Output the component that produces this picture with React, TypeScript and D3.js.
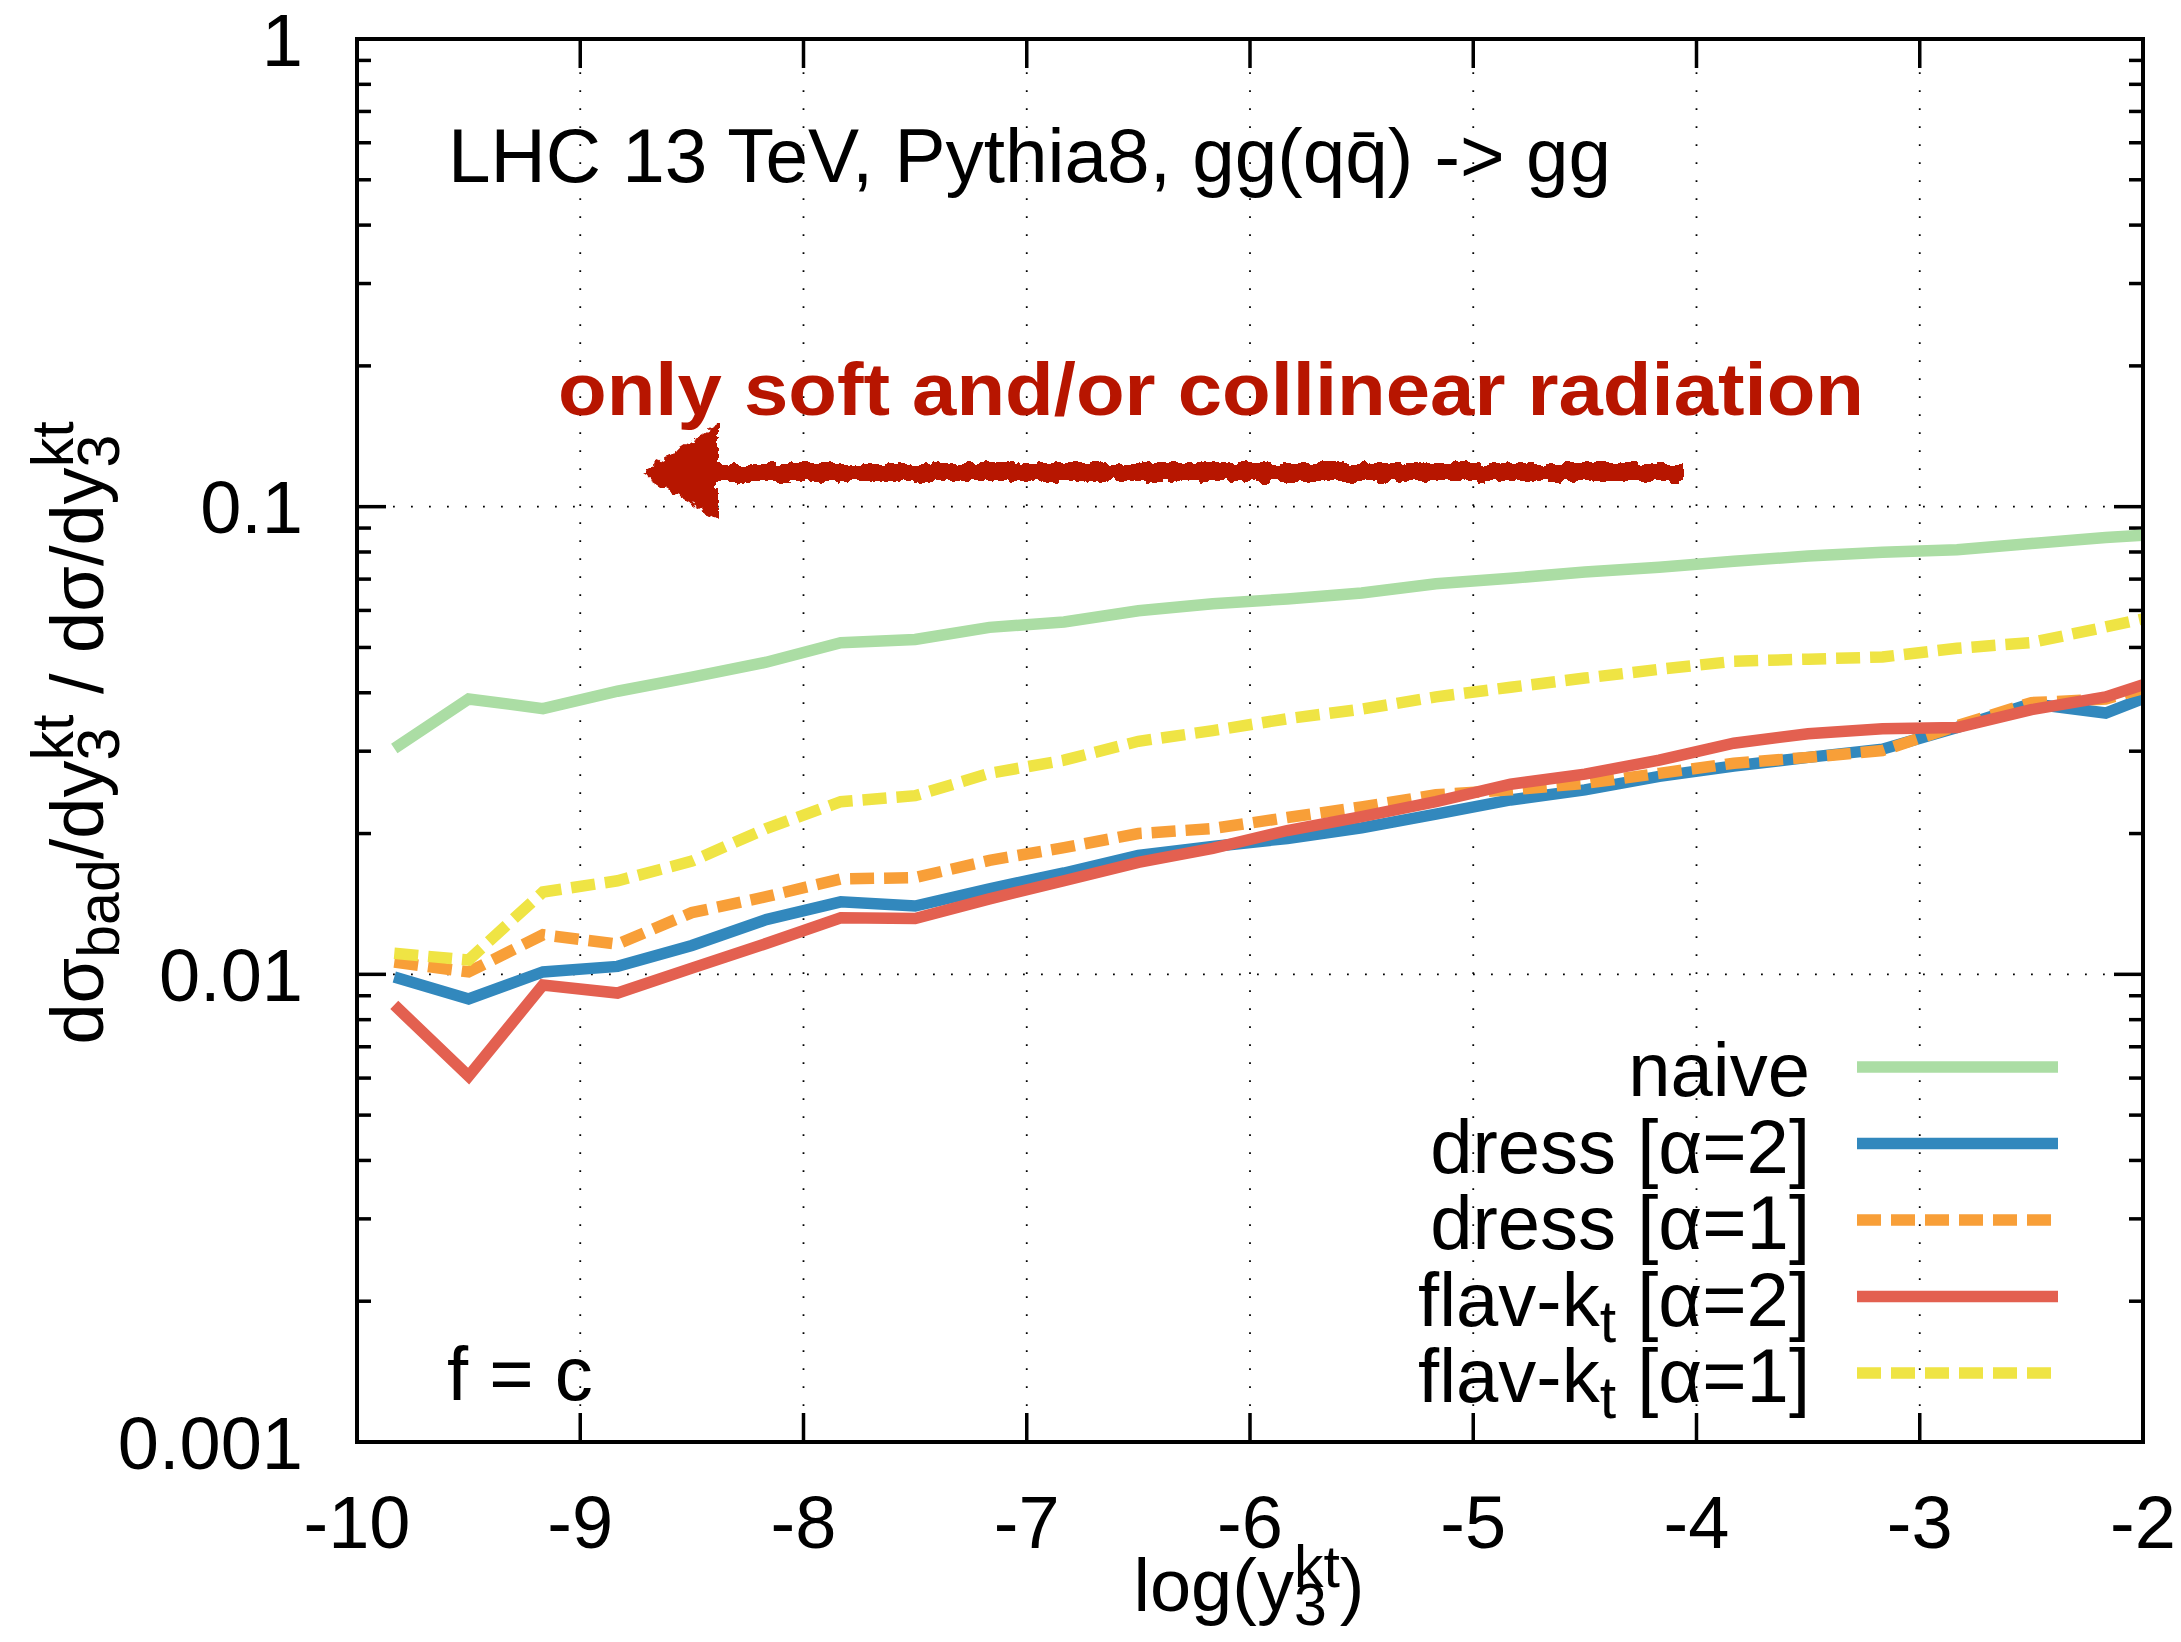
import React from "react";
import * as d3 from "d3";

// log(y3^kt) bin centres (bins of width 1/3); the last bin lies beyond the frame and is clipped
const logY3 = [
  -9.833, -9.5, -9.167, -8.833, -8.5, -8.167, -7.833, -7.5, -7.167, -6.833, -6.5, -6.167,
  -5.833, -5.5, -5.167, -4.833, -4.5, -4.167, -3.833, -3.5, -3.167, -2.833, -2.5, -2.167, -1.833,
];

const naive = [
  0.0304, 0.0388, 0.037, 0.0403, 0.0432, 0.0465, 0.0512, 0.052, 0.0552, 0.0567, 0.0599, 0.062,
  0.0635, 0.0654, 0.0684, 0.0703, 0.0725, 0.0742, 0.0764, 0.0784, 0.0799, 0.0809, 0.0834, 0.0859, 0.0878,
];
const dressA2 = [
  0.00987, 0.00886, 0.01012, 0.0104, 0.01153, 0.01309, 0.01429, 0.014, 0.01524, 0.01647, 0.01795, 0.01877,
  0.01952, 0.02057, 0.022, 0.0236, 0.0248, 0.0265, 0.0279, 0.0291, 0.0303, 0.0337, 0.0379, 0.0362, 0.0417,
];
const dressA1 = [
  0.01062, 0.01012, 0.01215, 0.0116, 0.01355, 0.01466, 0.016, 0.0161, 0.01753, 0.01866, 0.02, 0.0205,
  0.02164, 0.0228, 0.0242, 0.0248, 0.0256, 0.0269, 0.02827, 0.0291, 0.0301, 0.034, 0.0381, 0.0388, 0.043,
];
const flavKtA2 = [
  0.0086, 0.00606, 0.00949, 0.00912, 0.01031, 0.01164, 0.01321, 0.01316, 0.0145, 0.01585, 0.01736, 0.0186,
  0.0203, 0.02173, 0.0234, 0.0255, 0.0268, 0.0287, 0.0312, 0.0327, 0.0335, 0.0337, 0.0368, 0.0392, 0.0442,
];
const flavKtA1 = [
  0.01109, 0.01073, 0.015, 0.01585, 0.01746, 0.0205, 0.0234, 0.0241, 0.0269, 0.0287, 0.0315, 0.0332,
  0.0352, 0.0369, 0.0392, 0.0411, 0.043, 0.0449, 0.0467, 0.0472, 0.0477, 0.0498, 0.0512, 0.0553, 0.0599,
];

const xTickValues = [-10, -9, -8, -7, -6, -5, -4, -3, -2];
const yMajorValues = [1, 0.1, 0.01, 0.001];
const yTickLabels = ["1", "0.1", "0.01", "0.001"];

type Series = { key: string; label: string; sub?: string; tail?: string; values: number[]; color: string; dashed: boolean };

const series: Series[] = [
  { key: "naive", label: "naive", values: naive, color: "#abdda4", dashed: false },
  { key: "d2", label: "dress [α=2]", values: dressA2, color: "#3288bd", dashed: false },
  { key: "d1", label: "dress [α=1]", values: dressA1, color: "#f89f38", dashed: true },
  { key: "f2", label: "flav-k", sub: "t", tail: " [α=2]", values: flavKtA2, color: "#e36050", dashed: false },
  { key: "f1", label: "flav-k", sub: "t", tail: " [α=1]", values: flavKtA1, color: "#efe444", dashed: true },
];

const TITLE = "LHC 13 TeV, Pythia8, gg(qq\u0304) -> gg";

const W = 2181;
const H = 1642;
const frame = { left: 357, right: 2143, top: 39, bottom: 1442 };
const FONT = "'Liberation Sans', Arial, Helvetica, sans-serif";
const FS = 74;
const FS_KEY = 76;
const SUB = 59;
const LW = 11.5;
const DASH = "24 10";
const ink = "#000";
const annot = "#b71500";

export default function App() {
  const x = d3.scaleLinear().domain([-10, -2]).range([frame.left, frame.right]);
  const y = d3.scaleLog().domain([0.001, 1]).range([frame.bottom, frame.top]);

  const line = d3
    .line<[number, number]>()
    .x((d) => x(d[0]))
    .y((d) => y(d[1]));

  const yMinor = y.ticks().filter((v) => !yMajorValues.some((m) => Math.abs(m - v) / m < 1e-6));
  const gridX = xTickValues.slice(1, -1);
  const gridY = [0.1, 0.01];

  const legendTextRight = 1810;
  const legendLineX0 = 1857;
  const legendLineX1 = 2058;
  const legendY0 = 1067;
  const legendStep = 76.5;

  const arrowTip = 640;
  const arrowHeadBase = 718;
  const arrowEnd = 1683;
  const arrowY = 472;

  return (
    <svg
      width={W}
      height={H}
      viewBox={`0 0 ${W} ${H}`}
      style={{ position: "absolute", left: 0, top: 0, background: "#fff" }}
      fontFamily={FONT}
    >
      <defs>
        <clipPath id="plotClip">
          <rect x={frame.left} y={frame.top} width={frame.right - frame.left} height={frame.bottom - frame.top} />
        </clipPath>
        <filter id="chalk" x="-5%" y="-40%" width="110%" height="180%">
          <feTurbulence type="fractalNoise" baseFrequency="0.1" numOctaves="3" seed="3" result="noise" />
          <feDisplacementMap in="SourceGraphic" in2="noise" scale="11" xChannelSelector="R" yChannelSelector="G" />
        </filter>
      </defs>
      <rect x={0} y={0} width={W} height={H} fill="#fff" />

      {/* dotted grid */}
      <g stroke={ink} strokeWidth={1.8} strokeDasharray="1.8 16.2" fill="none">
        {gridX.map((v) => (
          <line key={`gx${v}`} x1={x(v)} x2={x(v)} y1={frame.bottom} y2={frame.top} />
        ))}
        {gridY.map((v) => (
          <line key={`gy${v}`} x1={frame.left} x2={frame.right} y1={y(v)} y2={y(v)} />
        ))}
      </g>

      {/* ticks on all four sides */}
      <g stroke={ink} strokeWidth={3.5}>
        {xTickValues.map((v) => (
          <g key={`xt${v}`}>
            <line x1={x(v)} x2={x(v)} y1={frame.bottom} y2={frame.bottom - 29} />
            <line x1={x(v)} x2={x(v)} y1={frame.top} y2={frame.top + 29} />
          </g>
        ))}
        {yMajorValues.map((v) => (
          <g key={`yt${v}`}>
            <line x1={frame.left} x2={frame.left + 29} y1={y(v)} y2={y(v)} />
            <line x1={frame.right} x2={frame.right - 29} y1={y(v)} y2={y(v)} />
          </g>
        ))}
        {yMinor.map((v) => (
          <g key={`ym${v}`}>
            <line x1={frame.left} x2={frame.left + 14} y1={y(v)} y2={y(v)} />
            <line x1={frame.right} x2={frame.right - 14} y1={y(v)} y2={y(v)} />
          </g>
        ))}
      </g>

      {/* curves */}
      <g clipPath="url(#plotClip)" fill="none">
        {series.map((s) => (
          <path
            key={s.key}
            d={line(logY3.map((lv, i) => [lv, s.values[i]] as [number, number])) || ""}
            stroke={s.color}
            strokeWidth={LW}
            strokeDasharray={s.dashed ? DASH : undefined}
            strokeLinejoin="miter"
            strokeLinecap="butt"
          />
        ))}
      </g>

      {/* frame */}
      <rect
        x={frame.left}
        y={frame.top}
        width={frame.right - frame.left}
        height={frame.bottom - frame.top}
        fill="none"
        stroke={ink}
        strokeWidth={4}
      />

      {/* tick labels */}
      <g fontSize={FS} fill={ink}>
        {xTickValues.map((v) => (
          <text key={`xl${v}`} x={x(v)} y={1548} textAnchor="middle">
            {String(v)}
          </text>
        ))}
        {yMajorValues.map((v, i) => (
          <text key={`yl${v}`} x={303} y={y(v) + 26.5} textAnchor="end">
            {yTickLabels[i]}
          </text>
        ))}
      </g>

      {/* axis titles */}
      <text x={1249} y={1611} fontSize={FS} textAnchor="middle" fill={ink}>
        <tspan>log(y</tspan>
        <tspan fontSize={SUB} dy={14}>3</tspan>
        <tspan fontSize={SUB} dx={-32.8} dy={-38}>kt</tspan>
        <tspan dy={24}>)</tspan>
      </text>
      <text transform="translate(103,733) rotate(-90)" fontSize={FS} textAnchor="middle" fill={ink}>
        <tspan>dσ</tspan>
        <tspan fontSize={SUB} dy={16}>bad</tspan>
        <tspan dy={-16}>/dy</tspan>
        <tspan fontSize={SUB} dy={16}>3</tspan>
        <tspan fontSize={SUB} dx={-32.8} dy={-46}>kt</tspan>
        <tspan dy={30}> / dσ/dy</tspan>
        <tspan fontSize={SUB} dy={16}>3</tspan>
        <tspan fontSize={SUB} dx={-32.8} dy={-46}>kt</tspan>
      </text>

      {/* annotations */}
      <text x={448} y={182} fontSize={FS_KEY} fill={ink} textLength={1163} lengthAdjust="spacingAndGlyphs">
        {TITLE}
      </text>
      <text x={447} y={1400} fontSize={FS_KEY} fill={ink}>
        f = c
      </text>
      <text x={558} y={415} fontSize={75} fontWeight="bold" fill={annot} textLength={1306} lengthAdjust="spacingAndGlyphs">
        only soft and/or collinear radiation
      </text>
      <g filter="url(#chalk)" fill={annot}>
        <path
          d={`M${arrowTip},${arrowY} L${arrowHeadBase},${arrowY - 48} L${arrowHeadBase},${arrowY - 9} L${arrowEnd},${arrowY - 9} L${arrowEnd},${arrowY + 9} L${arrowHeadBase},${arrowY + 9} L${arrowHeadBase},${arrowY + 48} Z`}
        />
      </g>

      {/* legend */}
      <g fontSize={FS_KEY} fill={ink}>
        {series.map((s, i) => {
          const ly = legendY0 + i * legendStep;
          return (
            <g key={`lg${s.key}`}>
              <text x={legendTextRight} y={ly + 29} textAnchor="end">
                <tspan>{s.label}</tspan>
                {s.sub ? (
                  <>
                    <tspan fontSize={SUB} dy={16}>{s.sub}</tspan>
                    <tspan dy={-16}>{s.tail}</tspan>
                  </>
                ) : null}
              </text>
              <line
                x1={legendLineX0}
                x2={legendLineX1}
                y1={ly}
                y2={ly}
                stroke={s.color}
                strokeWidth={LW}
                strokeDasharray={s.dashed ? DASH : undefined}
              />
            </g>
          );
        })}
      </g>
    </svg>
  );
}
